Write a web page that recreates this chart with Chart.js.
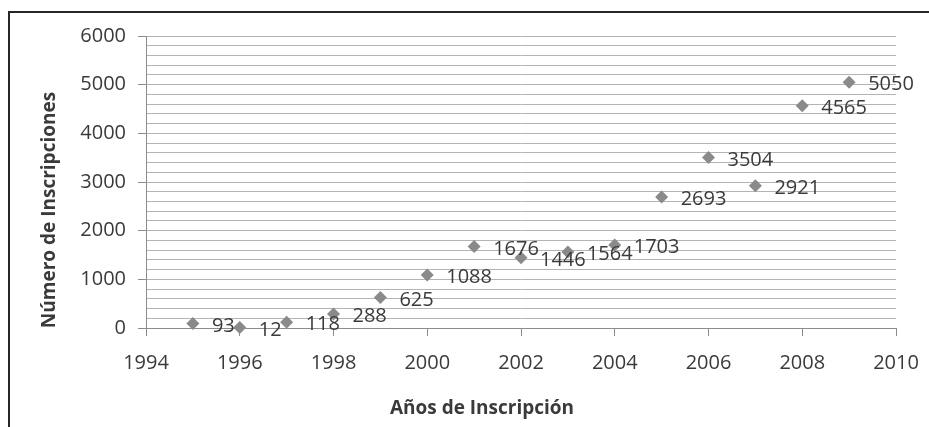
<!DOCTYPE html>
<html>
<head>
<meta charset="utf-8">
<script src="https://cdn.jsdelivr.net/npm/chart.js@4/dist/chart.umd.min.js"></script>
<style>
  html, body { margin: 0; padding: 0; background: #fff; overflow: hidden; }
  #wrap { position: relative; width: 929px; height: 427px; overflow: hidden; }
  #wrap canvas { position: absolute; left: 0; top: 0; }
  #frame {
    position: absolute; left: 8px; top: 11px; right: -20px; bottom: -20px;
    border-left: 2px solid #262626; border-top: 2px solid #262626;
    pointer-events: none;
  }
</style>
</head>
<body>
<div id="wrap">
  <canvas id="chart" width="929" height="427"></canvas>
  <div id="frame"></div>
</div>
<script>
// Registrations per year
const years = [1995, 1996, 1997, 1998, 1999, 2000, 2001, 2002, 2003, 2004, 2005, 2006, 2007, 2008, 2009];
const inscripciones = [93, 12, 118, 288, 625, 1088, 1676, 1446, 1564, 1703, 2693, 3504, 2921, 4565, 5050];

// Axis ranges and steps
const xRange = [1994, 2010];
const xStep = 2;
const yRange = [0, 6000];
const yMajorStep = 1000;
const yMinorStep = 200;

const xTitle = 'Años de Inscripción';
const yTitle = 'Número de Inscripciones';

const TEXT = '#3a3a3a';
const AXIS = '#8c8c8c';
const GRID = '#b4b4b4';
const MARK = '#8a8a8a';
const FONT = 'Open Sans';

const points = years.map((y, i) => ({ x: y, y: inscripciones[i] }));

// Value labels to the right of each marker
const valueLabels = {
  id: 'valueLabels',
  afterDatasetsDraw(chart) {
    const ctx = chart.ctx;
    const meta = chart.getDatasetMeta(0);
    ctx.save();
    ctx.font = '20px "' + FONT + '"';
    ctx.fillStyle = TEXT;
    ctx.textAlign = 'left';
    ctx.textBaseline = 'middle';
    meta.data.forEach((el, i) => {
      ctx.fillText(String(inscripciones[i]), el.x + 19, el.y + 2.5);
    });
    ctx.restore();
  }
};

// Axis titles
const axisTitles = {
  id: 'axisTitles',
  afterDraw(chart) {
    const ctx = chart.ctx;
    const a = chart.chartArea;
    ctx.save();
    ctx.font = 'bold 19px "' + FONT + '"';
    ctx.fillStyle = TEXT;
    ctx.textAlign = 'center';
    ctx.textBaseline = 'middle';
    ctx.fillText(xTitle, (a.left + a.right) / 2 - 39, 409);
    ctx.translate(50, (a.top + a.bottom) / 2 + 28);
    ctx.rotate(-Math.PI / 2);
    ctx.fillText(yTitle, 0, 0);
    ctx.restore();
  }
};

new Chart(document.getElementById('chart'), {
  type: 'scatter',
  data: {
    datasets: [{
      data: points,
      pointStyle: 'rectRot',
      pointRadius: 6.5,
      pointHoverRadius: 6.5,
      backgroundColor: MARK,
      borderColor: MARK,
      borderWidth: 0,
      clip: false
    }]
  },
  options: {
    responsive: false,
    animation: false,
    devicePixelRatio: 1,
    layout: { padding: { left: 0, top: 36, right: 33, bottom: 0 } },
    plugins: {
      legend: { display: false },
      tooltip: { enabled: false }
    },
    scales: {
      x: {
        type: 'linear',
        min: xRange[0],
        max: xRange[1],
        afterFit(scale) {
          scale.height = 99;
          scale.paddingLeft = 0;
          scale.paddingRight = 0;
        },
        ticks: {
          stepSize: xStep,
          color: TEXT,
          font: { family: FONT, size: 20 },
          padding: 15,
          maxRotation: 0,
          callback: v => String(v)
        },
        grid: {
          drawOnChartArea: false,
          drawTicks: true,
          tickLength: 8,
          tickColor: AXIS
        },
        border: { color: AXIS, width: 1 }
      },
      y: {
        min: yRange[0],
        max: yRange[1],
        afterFit(scale) {
          scale.width = 146;
          scale.paddingTop = 0;
          scale.paddingBottom = 0;
        },
        ticks: {
          stepSize: yMinorStep,
          autoSkip: false,
          color: TEXT,
          font: { family: FONT, size: 20 },
          padding: 12,
          callback: v => (v % yMajorStep === 0 ? String(v) : '')
        },
        grid: {
          color: ctx => (ctx.tick && ctx.tick.value === 0 ? AXIS : GRID),
          lineWidth: 1,
          drawTicks: true,
          tickLength: 8,
          tickColor: ctx => (ctx.tick && ctx.tick.value % yMajorStep === 0 ? AXIS : 'rgba(0,0,0,0)')
        },
        border: { color: AXIS, width: 1 }
      }
    }
  },
  plugins: [valueLabels, axisTitles]
});
</script>
</body>
</html>
